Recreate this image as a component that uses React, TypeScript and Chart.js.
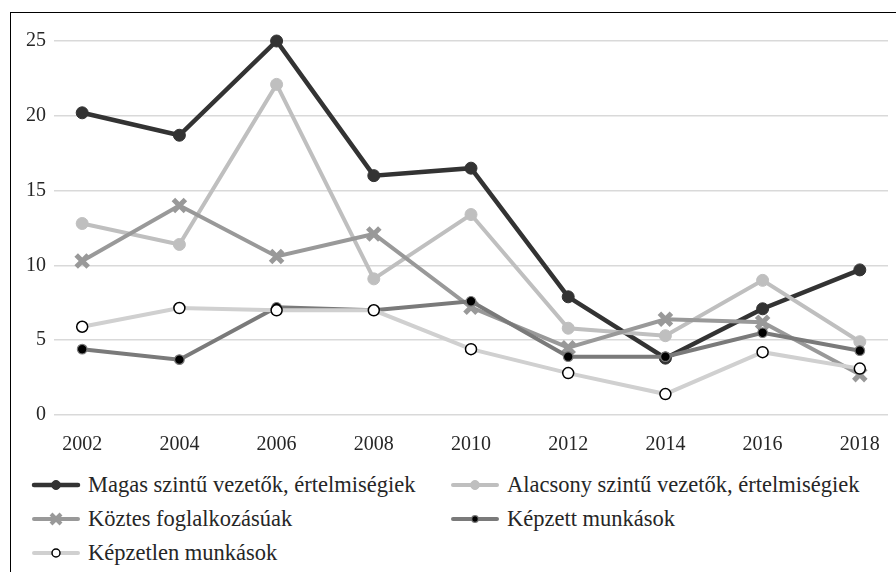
import React, { useEffect, useRef } from "react";
import { Chart, registerables } from "chart.js";
Chart.register(...registerables);

const years = [2002, 2004, 2006, 2008, 2010, 2012, 2014, 2016, 2018];
const magas = [20.2, 18.7, 25.0, 16.0, 16.5, 7.9, 3.8, 7.1, 9.7];
const alacsony = [12.8, 11.4, 22.1, 9.1, 13.4, 5.8, 5.3, 9.0, 4.9];
const koztes = [10.3, 14.0, 10.6, 12.1, 7.2, 4.5, 6.4, 6.2, 2.7];
const kepzett = [4.4, 3.7, 7.2, 7.0, 7.6, 3.9, 3.9, 5.5, 4.3];
const kepzetlen = [5.9, 7.15, 7.0, 7.0, 4.4, 2.8, 1.4, 4.2, 3.1];
const yTicks = [0, 5, 10, 15, 20, 25];

const seriesNames = [
  "Magas szintű vezetők, értelmiségiek",
  "Alacsony szintű vezetők, értelmiségiek",
  "Köztes foglalkozásúak",
  "Képzett munkások",
  "Képzetlen munkások",
];

const FONT = "'Liberation Serif', 'DejaVu Serif', serif";
const TEXT = "#262626";

type Sty = {
  line: string;
  width: number;
  style: "circle" | "crossRot";
  radius: number;
  fill: string;
  border: string;
  bw: number;
};

const styles: Sty[] = [
  { line: "#333333", width: 4.5, style: "circle", radius: 6, fill: "#333333", border: "#333333", bw: 1 },
  { line: "#bfbfbf", width: 4, style: "circle", radius: 6, fill: "#bfbfbf", border: "#bfbfbf", bw: 1 },
  { line: "#999999", width: 4, style: "crossRot", radius: 8.5, fill: "#999999", border: "#999999", bw: 5 },
  { line: "#7a7a7a", width: 4, style: "circle", radius: 4.8, fill: "#000000", border: "#7a7a7a", bw: 1.2 },
  { line: "#d0d0d0", width: 4, style: "circle", radius: 5.5, fill: "#ffffff", border: "#000000", bw: 1.5 },
];

function LegendMark({ s }: { s: Sty }) {
  return (
    <svg width={50} height={18} style={{ display: "block" }}>
      <line x1={3} y1={9} x2={47} y2={9} stroke={s.line} strokeWidth={s.width} strokeLinecap="round" />
      {s.style === "circle" ? (
        <circle cx={25} cy={9} r={s.radius - 1.5} fill={s.fill} stroke={s.border} strokeWidth={s.bw} />
      ) : (
        <g stroke={s.border} strokeWidth={4}>
          <line x1={20} y1={4} x2={30} y2={14} />
          <line x1={20} y1={14} x2={30} y2={4} />
        </g>
      )}
    </svg>
  );
}

export default function App() {
  const ref = useRef<HTMLCanvasElement | null>(null);

  useEffect(() => {
    if (!ref.current) return;
    const all = [magas, alacsony, koztes, kepzett, kepzetlen];
    const chart = new Chart(ref.current, {
      type: "line",
      data: {
        datasets: all.map((vals, i) => ({
          label: seriesNames[i],
          data: years.map((y, j) => ({ x: y, y: vals[j] })),
          borderColor: styles[i].line,
          borderWidth: styles[i].width,
          pointStyle: styles[i].style,
          pointRadius: styles[i].radius,
          pointBackgroundColor: styles[i].fill,
          pointBorderColor: styles[i].border,
          pointBorderWidth: styles[i].bw,
          tension: 0,
          clip: false as any,
          order: 5 - i,
        })),
      },
      options: {
        animation: false,
        responsive: true,
        maintainAspectRatio: false,
        layout: { autoPadding: false, padding: { top: 41, right: 8, bottom: 15, left: 0 } },
        plugins: { legend: { display: false }, tooltip: { enabled: false } },
        scales: {
          x: {
            type: "linear",
            min: 2001.42,
            max: 2018.58,
            afterBuildTicks: (sc: any) => {
              sc.ticks = years.map((v) => ({ value: v }));
            },
            afterFit: (sc: any) => {
              sc.height = 40;
              sc.paddingLeft = 0;
              sc.paddingRight = 0;
            },
            grid: { display: false },
            border: { display: false },
            ticks: {
              callback: (v: any) => String(v),
              font: { family: FONT, size: 20 },
              color: TEXT,
              padding: 10,
              maxRotation: 0,
            },
          },
          y: {
            min: 0,
            max: 25,
            afterBuildTicks: (sc: any) => {
              sc.ticks = yTicks.map((v) => ({ value: v }));
            },
            afterFit: (sc: any) => {
              sc.width = 54;
            },
            grid: { color: "#d9d9d9", lineWidth: 1.5, drawTicks: false },
            border: { display: false },
            ticks: {
              font: { family: FONT, size: 20 },
              color: TEXT,
              padding: 8,
            },
          },
        },
      },
    });
    return () => chart.destroy();
  }, []);

  const legendRows = [
    [0, 1],
    [2, 3],
    [4],
  ];
  const colX = [31, 450];
  const rowY = [485, 519, 553];

  return (
    <div
      style={{
        position: "fixed",
        left: 0,
        top: 0,
        width: 896,
        height: 572,
        overflow: "hidden",
        background: "#fff",
        fontFamily: FONT,
      }}
    >
      <div
        style={{
          position: "absolute",
          left: 10,
          top: 11.5,
          width: 1000,
          height: 1000,
          borderLeft: "1.5px solid #000",
          borderTop: "1.5px solid #000",
        }}
      />
      <div style={{ position: "absolute", left: 0, top: 0, width: 896, height: 470 }}>
        <canvas ref={ref} />
      </div>
      {legendRows.map((row, r) =>
        row.map((idx, c) => (
          <div
            key={idx}
            style={{
              position: "absolute",
              left: colX[c],
              top: rowY[r] - 14,
              height: 28,
              display: "flex",
              alignItems: "center",
              whiteSpace: "nowrap",
              color: TEXT,
              fontSize: 22.5,
            }}
          >
            <LegendMark s={styles[idx]} />
            <span style={{ marginLeft: 7 }}>{seriesNames[idx]}</span>
          </div>
        ))
      )}
    </div>
  );
}
